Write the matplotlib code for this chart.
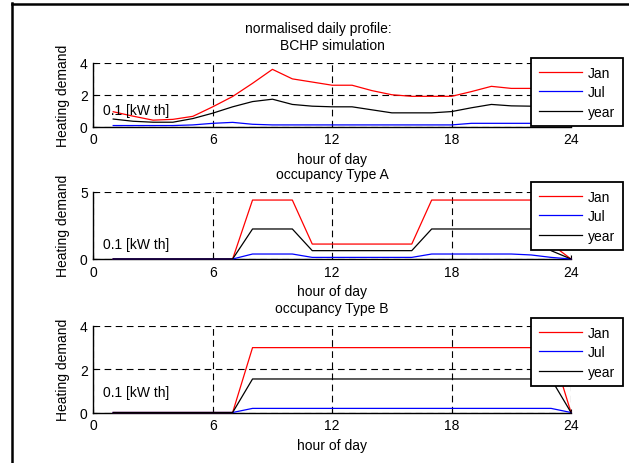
import matplotlib
matplotlib.use("Agg")
import matplotlib.pyplot as plt
from matplotlib.lines import Line2D

plt.rcParams['font.family'] = ['Liberation Sans', 'DejaVu Sans']
plt.rcParams['font.size'] = 10

hours = list(range(1, 25))

# BCHP simulation
bchp_jan = [0.93, 0.65, 0.40, 0.45, 0.64, 1.24, 1.89, 2.72, 3.60, 3.00, 2.80, 2.60,
            2.60, 2.26, 2.00, 1.90, 1.90, 1.90, 2.20, 2.53, 2.40, 2.40, 2.40, 2.40]
bchp_jul = [0.06, 0.06, 0.06, 0.06, 0.10, 0.20, 0.26, 0.14, 0.10, 0.10, 0.10, 0.10,
            0.10, 0.10, 0.10, 0.10, 0.10, 0.10, 0.20, 0.20, 0.20, 0.20, 0.18, 0.16]
bchp_year = [0.47, 0.33, 0.27, 0.27, 0.50, 0.84, 1.24, 1.57, 1.72, 1.39, 1.28, 1.24,
             1.24, 1.05, 0.86, 0.86, 0.86, 0.94, 1.18, 1.39, 1.30, 1.28, 1.28, 1.28]

# occupancy Type A
a_jan = [0, 0, 0, 0, 0, 0, 0, 4.38, 4.38, 4.38, 1.11, 1.11,
         1.11, 1.11, 1.11, 1.11, 4.38, 4.38, 4.38, 4.38, 4.38, 4.38, 1.11, 0]
a_jul = [0, 0, 0, 0, 0, 0, 0, 0.37, 0.37, 0.37, 0.12, 0.12,
         0.12, 0.12, 0.12, 0.12, 0.37, 0.37, 0.37, 0.37, 0.37, 0.30, 0.12, 0]
a_year = [0, 0, 0, 0, 0, 0, 0, 2.23, 2.23, 2.23, 0.62, 0.62,
          0.62, 0.62, 0.62, 0.62, 2.23, 2.23, 2.23, 2.23, 2.23, 2.23, 0.62, 0]

# occupancy Type B
b_jan = [0, 0, 0, 0, 0, 0, 0, 3.0, 3.0, 3.0, 3.0, 3.0,
         3.0, 3.0, 3.0, 3.0, 3.0, 3.0, 3.0, 3.0, 3.0, 3.0, 3.0, 0]
b_jul = [0, 0, 0, 0, 0, 0, 0, 0.19, 0.19, 0.19, 0.19, 0.19,
         0.19, 0.19, 0.19, 0.19, 0.19, 0.19, 0.19, 0.19, 0.19, 0.19, 0.19, 0]
b_year = [0, 0, 0, 0, 0, 0, 0, 1.55, 1.55, 1.55, 1.55, 1.55,
          1.55, 1.55, 1.55, 1.55, 1.55, 1.55, 1.55, 1.55, 1.55, 1.55, 1.55, 0]

titles = ["normalised daily profile:       \nBCHP simulation", "occupancy Type A", "occupancy Type B"]
series = [(bchp_jan, bchp_jul, bchp_year), (a_jan, a_jul, a_year), (b_jan, b_jul, b_year)]
y_max = [4, 5, 4]
y_ticks = [[0, 2, 4], [0, 5], [0, 2, 4]]
x_ticks = [0, 6, 12, 18, 24]
unit_label = "0.1 [kW th]"
unit_label_y = [1.05, 1.1, 0.97]
legend_labels = ["Jan", "Jul", "year"]
colors = ["#ff0000", "#0000ff", "#000000"]

W, H = 629, 464
fig = plt.figure(figsize=(W / 100, H / 100), dpi=100)

# outer frame (left and top edges)
fig.add_artist(Line2D([12 / W, 12 / W], [0, 1 - 4 / H], color="black", lw=1.8,
                      transform=fig.transFigure))
fig.add_artist(Line2D([12 / W, 1], [1 - 5 / H, 1 - 5 / H], color="black", lw=1.8,
                      transform=fig.transFigure))

# axes boxes in pixels: (top, bottom)
boxes = [(64, 127.5), (192.7, 260), (327, 413.5)]
legend_tops = [59, 183, 319]
x0, x1 = 93.3, 571

for i in range(3):
    top, bot = boxes[i]
    ax = fig.add_axes([x0 / W, 1 - bot / H, (x1 - x0) / W, (bot - top) / H])
    jan, jul, yr = series[i]
    lines = []
    for vals, c, lab in zip((jan, jul, yr), colors, legend_labels):
        ln, = ax.plot(hours, vals, color=c, lw=0.9, label=lab, clip_on=False, zorder=3)
        lines.append(ln)
    ax.set_xlim(0, 24)
    ax.set_ylim(0, y_max[i])
    ax.set_xticks(x_ticks)
    ax.set_yticks(y_ticks[i])
    ax.grid(True, color="black", linestyle=(0, (6, 4)), lw=0.8)
    ax.spines["top"].set_visible(False)
    ax.spines["right"].set_visible(False)
    for s in ("left", "bottom"):
        ax.spines[s].set_linewidth(1.0)
    ax.tick_params(direction="in", length=3, width=0.8, pad=4, labelsize=10)
    ax.set_title(titles[i], fontsize=10, pad=10, linespacing=1.25)
    ax.set_xlabel("hour of day", fontsize=10, labelpad=4)
    ax.set_ylabel("Heating demand", fontsize=10, labelpad=7)
    ax.text(0.5, unit_label_y[i], unit_label, fontsize=10, va="center", ha="left")
    leg = fig.legend(handles=lines, loc="upper left",
                     bbox_to_anchor=(531 / W, 1 - legend_tops[i] / H),
                     bbox_transform=fig.transFigure, frameon=True, fancybox=False,
                     framealpha=1, edgecolor="black", fontsize=10,
                     handlelength=3.1, handletextpad=0.45, borderpad=0.55,
                     labelspacing=0.4, borderaxespad=0)
    leg.get_frame().set_linewidth(1.3)
    leg.set_zorder(10)

fig.savefig("out.png", dpi=100)
